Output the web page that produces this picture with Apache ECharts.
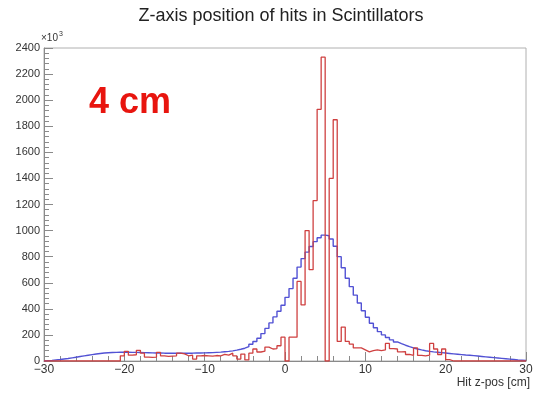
<!DOCTYPE html>
<html>
<head>
<meta charset="utf-8">
<script src="https://cdn.jsdelivr.net/npm/echarts@6/dist/echarts.min.js"></script>
<style>
  html, body { margin: 0; padding: 0; background: #fff; }
  #chart { width: 535px; height: 394px; }
</style>
</head>
<body>
<div id="chart"></div>
<script>
  // histogram binning (cm), values in units of 10^3 hits
  const binLow = -30;
  const binWidth = 0.5;
  const xTicks = [-30, -20, -10, 0, 10, 20, 30];
  const yTicks = [0, 200, 400, 600, 800, 1000, 1200, 1400, 1600, 1800, 2000, 2200, 2400];

  // blue: wide distribution
  const blueCounts = [
    3, 5, 8, 11, 15, 19, 24, 29, 34, 39,
    44, 49, 54, 58, 61, 63, 65, 66, 67, 67,
    67, 66, 66, 65, 64, 63, 62, 61, 61, 60,
    60, 60, 59, 59, 59, 60, 60, 61, 61, 62,
    63, 64, 66, 68, 71, 74, 78, 83, 90, 98,
    110, 128, 150, 175, 210, 250, 292, 338, 382, 428,
    488, 555, 635, 720, 785, 835, 878, 915, 945, 965,
    960, 935, 880, 800, 715, 635, 570, 505, 445, 385,
    335, 290, 255, 225, 200, 180, 162, 146, 133, 121,
    110, 100, 92, 85, 79, 74, 70, 67, 64, 61,
    58, 55, 52, 49, 46, 44, 41, 38, 35, 32,
    29, 26, 23, 20, 17, 14, 11, 8, 6, 4
  ];

  // red: 4 cm
  const redCounts = [
    0, 0, 0, 0, 0, 0, 0, 0, 0, 0,
    0, 0, 0, 0, 0, 0, 0, 0, 0, 40,
    74, 45, 48, 82, 60, 30, 28, 30, 66, 40,
    35, 38, 40, 60, 55, 40, 45, 15, 40, 42,
    40, 38, 42, 40, 50, 45, 60, 40, 15, 53,
    8, 60, 92, 69, 75, 107, 92, 95, 117, 183,
    0, 183, 183, 610, 430, 1000, 700, 1230, 1930, 2330,
    0, 1400, 1850, 150, 260, 150, 130, 100, 100, 85,
    70, 80, 85, 80, 85, 135, 95, 92, 70, 72,
    50, 43, 100, 43, 40, 45, 135, 92, 50, 92,
    10, 0, 0, 0, 0, 0, 0, 0, 0, 0,
    0, 0, 0, 0, 0, 0, 0, 0, 0, 0
  ];

  function histPoints(counts) {
    const pts = [[binLow, 0]];
    counts.forEach(function (v, i) {
      pts.push([binLow + i * binWidth, v]);
    });
    const hi = binLow + counts.length * binWidth;
    pts.push([hi, counts[counts.length - 1]]);
    pts.push([hi, 0]);
    return pts;
  }

  const axisGray = '#8a8a8a';
  const labelColor = '#333';

  const chart = echarts.init(document.getElementById('chart'), null, { renderer: 'canvas' });
  chart.setOption({
    animation: false,
    backgroundColor: '#fff',
    grid: {
      left: 44,
      right: 9,
      top: 48,
      bottom: 33,
      show: true,
      borderColor: '#b0b0b0',
      borderWidth: 1,
      containLabel: false,
      outerBoundsMode: 'none'
    },
    xAxis: {
      type: 'value',
      min: xTicks[0],
      max: xTicks[xTicks.length - 1],
      interval: 10,
      axisLine: { show: true, onZero: false, lineStyle: { color: axisGray, width: 1 } },
      axisTick: { show: true, inside: true, length: 9, lineStyle: { color: axisGray } },
      minorTick: { show: true, splitNumber: 5, length: 5, lineStyle: { color: axisGray } },
      splitLine: { show: false },
      axisLabel: {
        color: labelColor,
        fontSize: 12,
        fontFamily: 'Liberation Sans, Arial, sans-serif',
        margin: 3,
        formatter: function (v) { return v < 0 ? '\u2212' + Math.abs(v) : String(v); }
      }
    },
    yAxis: {
      type: 'value',
      min: yTicks[0],
      max: yTicks[yTicks.length - 1],
      interval: 200,
      axisLine: { show: true, onZero: false, lineStyle: { color: axisGray, width: 1 } },
      axisTick: { show: true, inside: true, length: 9, lineStyle: { color: axisGray } },
      minorTick: { show: true, splitNumber: 5, length: 5, lineStyle: { color: axisGray } },
      splitLine: { show: false },
      axisLabel: {
        color: labelColor,
        fontSize: 11,
        fontFamily: 'Liberation Sans, Arial, sans-serif',
        margin: 4,
        formatter: function (v) { return String(v); }
      }
    },
    series: [
      {
        name: 'wide',
        type: 'line',
        step: 'end',
        showSymbol: false,
        silent: true,
        data: histPoints(blueCounts),
        lineStyle: { color: '#5252d4', width: 1.4 },
        z: 2
      },
      {
        name: '4 cm',
        type: 'line',
        step: 'end',
        showSymbol: false,
        silent: true,
        data: histPoints(redCounts),
        lineStyle: { color: '#cf4040', width: 1.3 },
        z: 3
      }
    ],
    graphic: [
      {
        type: 'text',
        x: 281,
        y: 16,
        style: {
          text: 'Z-axis position of hits in Scintillators',
          fill: '#222',
          font: '18px "Liberation Sans", Arial, sans-serif',
          textAlign: 'center',
          textVerticalAlign: 'middle'
        }
      },
      {
        type: 'text',
        x: 41,
        y: 38,
        style: {
          text: '\u00d710',
          fill: '#333',
          font: '10px "Liberation Sans", Arial, sans-serif',
          textAlign: 'left',
          textVerticalAlign: 'middle'
        }
      },
      {
        type: 'text',
        x: 59,
        y: 34,
        style: {
          text: '3',
          fill: '#333',
          font: '7px "Liberation Sans", Arial, sans-serif',
          textAlign: 'left',
          textVerticalAlign: 'middle'
        }
      },
      {
        type: 'text',
        x: 89,
        y: 103,
        style: {
          text: '4 cm',
          fill: '#e8150f',
          font: 'bold 36px "Liberation Sans", Arial, sans-serif',
          textAlign: 'left',
          textVerticalAlign: 'middle'
        }
      },
      {
        type: 'text',
        x: 530,
        y: 383,
        style: {
          text: 'Hit z-pos [cm]',
          fill: '#333',
          font: '12px "Liberation Sans", Arial, sans-serif',
          textAlign: 'right',
          textVerticalAlign: 'middle'
        }
      }
    ]
  });
</script>
</body>
</html>
